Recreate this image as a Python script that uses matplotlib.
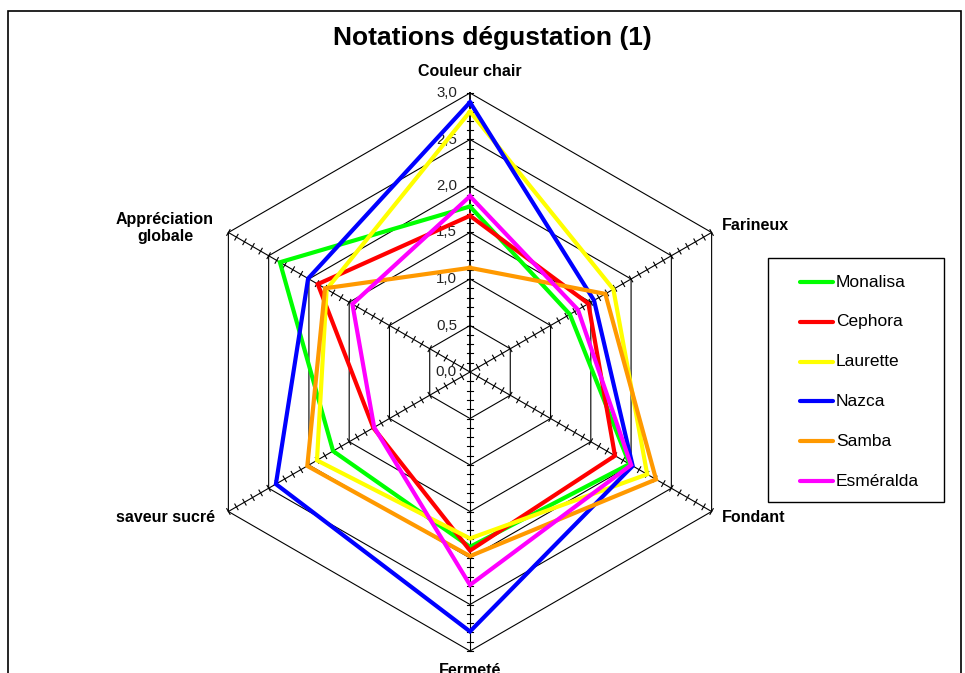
import numpy as np
import matplotlib.pyplot as plt
from matplotlib.patches import Rectangle
from matplotlib.lines import Line2D

plt.rcParams['font.family'] = ['Liberation Sans', 'DejaVu Sans']

# Données de dégustation
criteres = ["Couleur chair", "Farineux", "Fondant", "Fermeté", "saveur sucré", "Appréciation\nglobale"]
angles_deg = [90, 30, -30, -90, -150, 150]
varietes = ["Monalisa", "Cephora", "Laurette", "Nazca", "Samba", "Esméralda"]
couleurs = ["#00ff00", "#ff0000", "#ffff00", "#0000ff", "#ff9900", "#ff00ff"]

monalisa = [1.78, 1.24, 1.98, 1.88, 1.70, 2.36]
cephora = [1.68, 1.47, 1.80, 1.92, 1.20, 1.89]
laurette = [2.80, 1.78, 2.20, 1.79, 1.90, 1.78]
nazca = [2.90, 1.54, 2.02, 2.79, 2.41, 2.01]
samba = [1.12, 1.68, 2.31, 1.98, 2.02, 1.80]
esmeralda = [1.89, 1.34, 2.00, 2.29, 1.19, 1.46]
notes = [monalisa, cephora, laurette, nazca, samba, esmeralda]

graduations = [0.0, 0.5, 1.0, 1.5, 2.0, 2.5, 3.0]
etiquettes = ["0,0", "0,5", "1,0", "1,5", "2,0", "2,5", "3,0"]

W, H = 965, 673
fig = plt.figure(figsize=(W / 100, H / 100), dpi=100)
ax = fig.add_axes([0, 0, 1, 1])
# 93 px par unité, centre à (470, 372)
ech = 93.0
ax.set_xlim(-470 / ech, (W - 470) / ech)
ax.set_ylim(-(H - 372) / ech, 372 / ech)
ax.axis('off')

theta = np.radians(angles_deg)
cx, cy = np.cos(theta), np.sin(theta)

# Grille hexagonale
for g in graduations[1:]:
    xs = np.append(g * cx, g * cx[0])
    ys = np.append(g * cy, g * cy[0])
    ax.plot(xs, ys, color='black', lw=0.8, zorder=1)

# Rayons + petites graduations
rmax = graduations[-1]
t = 0.035
for i in range(len(theta)):
    ax.plot([0, rmax * cx[i]], [0, rmax * cy[i]], color='black',
            lw=1.3 if i == 0 else 0.8, zorder=1)
    px, py = -cy[i], cx[i]
    for r in np.arange(0.1, 3.01, 0.1):
        ax.plot([r * cx[i] - t * px, r * cx[i] + t * px],
                [r * cy[i] - t * py, r * cy[i] + t * py],
                color='black', lw=0.8, zorder=1)

# Étiquettes de l'échelle
for g, lab in zip(graduations, etiquettes):
    ax.text(-0.14, g, lab, ha='right', va='center', fontsize=10.8, color='#222222', zorder=2)

# Séries
for nom, col, vals in zip(varietes, couleurs, notes):
    v = np.array(vals)
    ax.plot(np.append(v * cx, v[0] * cx[0]), np.append(v * cy, v[0] * cy[0]),
            color=col, lw=3, solid_joinstyle='miter', zorder=3, label=nom)

# Noms des axes
fs = 11.5
ax.text(0, 3.226, criteres[0], ha='center', va='center', fontsize=fs, fontweight='bold')
ax.text(2.71, 1.57, criteres[1], ha='left', va='center', fontsize=fs, fontweight='bold')
ax.text(2.71, -1.56, criteres[2], ha='left', va='center', fontsize=fs, fontweight='bold')
ax.text(0, -3.13, criteres[3], ha='center', va='top', fontsize=fs, fontweight='bold')
ax.text(-2.74, -1.56, criteres[4], ha='right', va='center', fontsize=fs, fontweight='bold')
ax.text(-3.28, 1.55, criteres[5], ha='center', va='center', fontsize=fs, fontweight='bold',
        multialignment='center', linespacing=1.2)

# Titre
fig.text(492 / W, 1 - 38 / H, "Notations dégustation (1)", ha='center', va='center',
         fontsize=19, fontweight='bold')

# Cadre
fig.patches.append(Rectangle((8 / W, -0.1), (961 - 8) / W, 1.1 - 11 / H, transform=fig.transFigure,
                             fill=False, edgecolor='black', lw=1.2))

# Légende
fig.patches.append(Rectangle((768 / W, 1 - 502 / H), (944 - 768) / W, (502 - 258) / H,
                             transform=fig.transFigure, fill=False, edgecolor='black', lw=1))
for k, (nom, col) in enumerate(zip(varietes, couleurs)):
    yy = 1 - (282 + 39.8 * k) / H
    fig.lines.append(Line2D([800 / W, 833 / W], [yy, yy], transform=fig.transFigure,
                            color=col, lw=3, solid_capstyle='round'))
    fig.text(836 / W, yy, nom, ha='left', va='center', fontsize=12.5)

fig.savefig("out.png", dpi=100)
